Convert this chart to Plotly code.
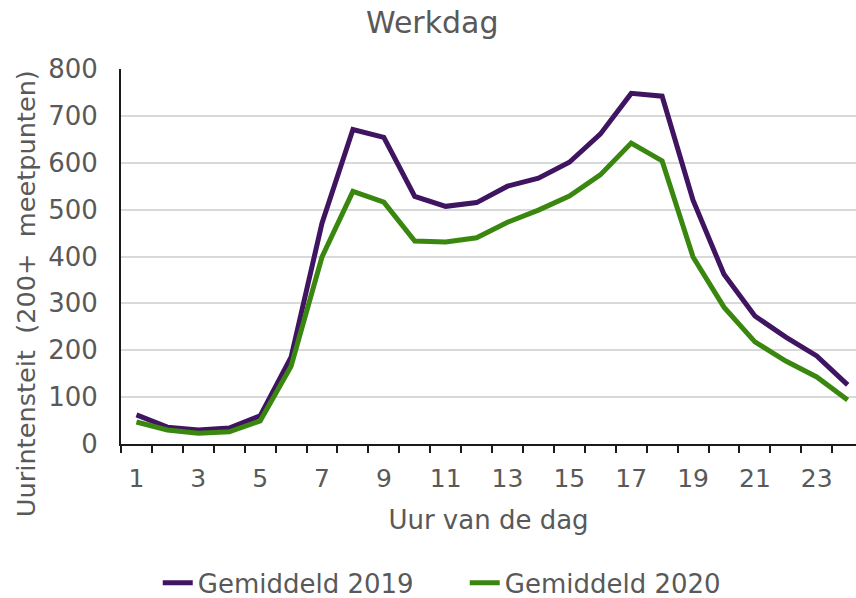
import plotly.graph_objects as go

hours = list(range(1, 25))
gem_2019 = [62, 36, 30, 34, 60, 185, 471, 671, 654, 528, 507, 515, 550, 567, 601, 661,
            748, 742, 520, 362, 273, 228, 188, 126]
gem_2020 = [47, 30, 23, 26, 49, 166, 399, 539, 516, 433, 431, 440, 473, 499, 529, 574,
            642, 604, 399, 292, 218, 177, 143, 94]
x_tick_labels = [str(h) for h in range(1, 24, 2)]
y_ticks = list(range(0, 801, 100))

grey = "#595959"
font_main = "DejaVu Sans"

fig = go.Figure()
fig.add_trace(go.Scatter(x=hours, y=gem_2019, mode="lines", name="Gemiddeld 2019",
                         line=dict(color="#3f1460", width=5)))
fig.add_trace(go.Scatter(x=hours, y=gem_2020, mode="lines", name="Gemiddeld 2020",
                         line=dict(color="#3a870f", width=5)))

fig.update_layout(
    width=856, height=598,
    margin=dict(l=121, r=0, t=69, b=154, autoexpand=False),
    plot_bgcolor="white", paper_bgcolor="white",
    title=dict(text="Werkdag", x=0.505, xanchor="center", y=0.963, yanchor="middle",
               xref="container",
               font=dict(family=font_main, size=30, color=grey)),
    showlegend=True,
    legend=dict(orientation="h", x=0.05, xanchor="left", y=-0.37, yanchor="middle",
                font=dict(family=font_main, size=26, color=grey),
                itemwidth=30, tracegroupgap=0, entrywidth=262),
    annotations=[dict(text="Uurintensteit  (200+  meetpunten)", textangle=-90,
                      xref="paper", yref="paper", x=-0.129, y=0.40,
                      xanchor="center", yanchor="middle", showarrow=False,
                      font=dict(family=font_main, size=25.6, color=grey))],
)
fig.update_xaxes(
    range=[0.5, 24.27], automargin=False,
    tickmode="array", tickvals=list(range(1, 24, 2)), ticktext=x_tick_labels,
    ticks="", tickfont=dict(family=font_main, size=25, color=grey),
    ticklabelstandoff=11,
    showgrid=False, zeroline=False,
    showline=True, linecolor="#1a1a1a", linewidth=2,
    minor=dict(tickmode="array", tickvals=[h + 0.5 for h in range(0, 25)],
               ticks="outside", ticklen=7, tickcolor="#1a1a1a", tickwidth=2, showgrid=False),
    title=dict(text="Uur van de dag", font=dict(family=font_main, size=26, color=grey),
               standoff=19),
)
fig.update_yaxes(
    range=[0, 800], tickvals=y_ticks, automargin=False,
    tickfont=dict(family=font_main, size=26, color=grey),
    showgrid=True, gridcolor="#d9d9d9", gridwidth=2, zeroline=False,
    showline=True, linecolor="#1a1a1a", linewidth=2, ticks="", ticklabelstandoff=16,
)

fig.write_html("out.html", config={"displayModeBar": False},
               post_script="document.body.style.margin='0';")
